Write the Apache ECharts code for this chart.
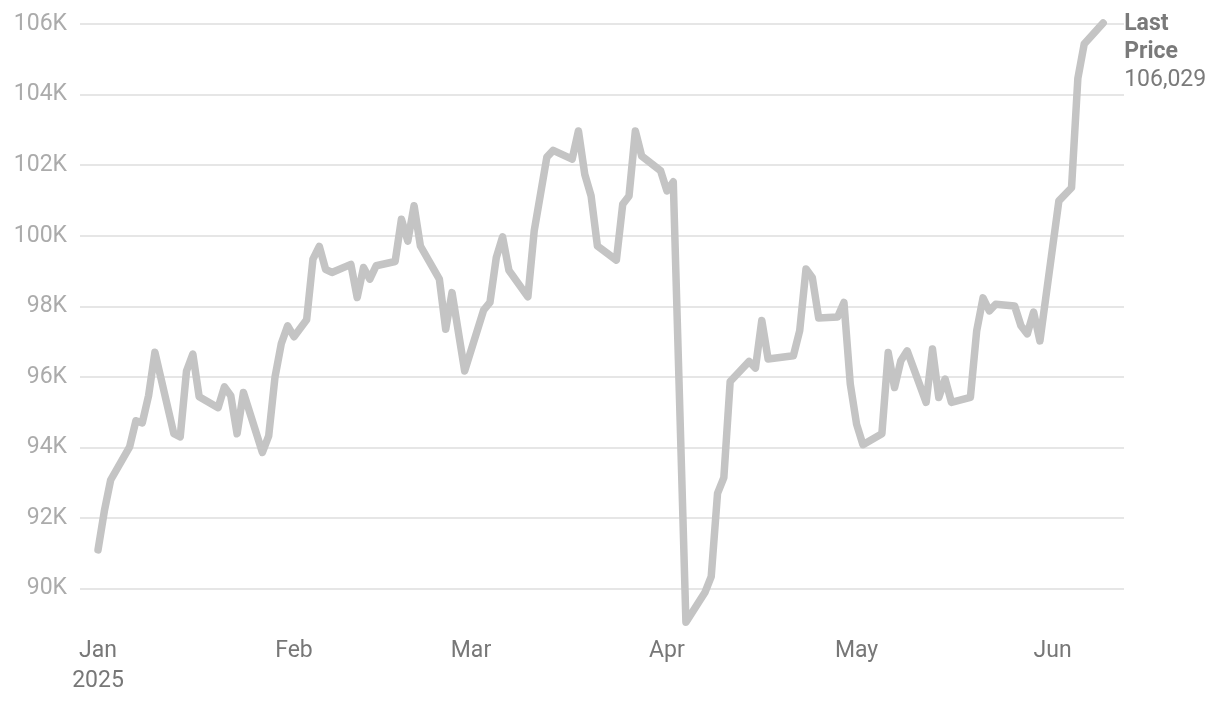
<!DOCTYPE html>
<html><head><meta charset="utf-8">
<script src="https://cdn.jsdelivr.net/npm/echarts@6/dist/echarts.min.js"></script>
<style>html,body{margin:0;padding:0;background:#fff}#c{width:1220px;height:704px}</style>
</head><body><div id="c"></div>
<script>
const dates = [
'2025-01-01','2025-01-02','2025-01-03','2025-01-06','2025-01-07','2025-01-08','2025-01-09','2025-01-10',
'2025-01-13','2025-01-14','2025-01-15','2025-01-16','2025-01-17','2025-01-20','2025-01-21','2025-01-22',
'2025-01-23','2025-01-24','2025-01-27','2025-01-28','2025-01-29','2025-01-30','2025-01-31','2025-02-01',
'2025-02-03','2025-02-04','2025-02-05','2025-02-06','2025-02-07','2025-02-10','2025-02-11','2025-02-12',
'2025-02-13','2025-02-14','2025-02-17','2025-02-18','2025-02-19','2025-02-20','2025-02-21','2025-02-24',
'2025-02-25','2025-02-26','2025-02-28','2025-03-03','2025-03-04','2025-03-05','2025-03-06','2025-03-07',
'2025-03-10','2025-03-11','2025-03-13','2025-03-14','2025-03-17','2025-03-18','2025-03-19','2025-03-20',
'2025-03-21','2025-03-24','2025-03-25','2025-03-26','2025-03-27','2025-03-28','2025-03-31','2025-04-01',
'2025-04-02','2025-04-04','2025-04-07','2025-04-08','2025-04-09','2025-04-10','2025-04-11','2025-04-14',
'2025-04-15','2025-04-16','2025-04-17','2025-04-21','2025-04-22','2025-04-23','2025-04-24','2025-04-25',
'2025-04-28','2025-04-29','2025-04-30','2025-05-01','2025-05-02','2025-05-05','2025-05-06','2025-05-07',
'2025-05-08','2025-05-09','2025-05-12','2025-05-13','2025-05-14','2025-05-15','2025-05-16','2025-05-19',
'2025-05-20','2025-05-21','2025-05-22','2025-05-23','2025-05-26','2025-05-27','2025-05-28','2025-05-29',
'2025-05-30','2025-06-02','2025-06-04','2025-06-05','2025-06-06','2025-06-09'
];
const prices = [
91100,92200,93080,94020,94760,94700,95470,96700,
94390,94300,96170,96650,95440,95130,95720,95470,
94390,95560,93860,94330,96000,96950,97450,97140,
97620,99340,99700,99050,98960,99190,98250,99100,
98770,99150,99270,100470,99850,100850,99710,98770,
97350,98390,96170,97890,98110,99380,99970,99020,
98270,100140,102230,102420,102170,102970,101740,101130,
99710,99310,100890,101130,102970,102260,101840,101270,
101530,89050,89890,90340,92700,93150,95870,96440,
96250,97600,96510,96600,97310,99060,98810,97670,
97700,98110,95800,94660,94080,94390,96690,95700,
96460,96740,95280,96790,95420,95940,95280,95420,
97310,98240,97870,98060,98010,97450,97220,97840,
97020,100990,101360,104460,105430,106029
];
const monthTicks = ['2025-01-01','2025-02-01','2025-03-01','2025-04-01','2025-05-01','2025-06-01'];
const monthNames = ['Jan','Feb','Mar','Apr','May','Jun'];
const yTicks = [90000,92000,94000,96000,98000,100000,102000,104000,106000];
const lastLabel = ['Last','Price'];

const ts = s => { const [y,m,d] = s.split('-').map(Number); return new Date(y, m - 1, d).getTime(); };
const DAY = 86400000;
const t0 = ts('2025-01-01');
const fmtNum = v => String(Math.round(v)).replace(/\B(?=(\d{3})+(?!\d))/g, ',');

const chart = echarts.init(document.getElementById('c'), null, {renderer: 'canvas'});
chart.setOption({
  animation: false,
  backgroundColor: '#ffffff',
  textStyle: {fontFamily: 'Roboto'},
  grid: {left: 80, right: 96, top: 24, bottom: 80},
  xAxis: {
    type: 'value',
    min: t0 - 2.85 * DAY,
    max: t0 + 162.3 * DAY,
    axisLine: {show: false},
    axisTick: {show: false, customValues: monthTicks.map(ts)},
    splitLine: {show: false},
    axisLabel: {
      customValues: monthTicks.map(ts),
      margin: 12,
      fontSize: 23,
      lineHeight: 30,
      color: '#777777',
      fontFamily: 'Roboto',
      formatter: v => {
        const d = new Date(v);
        const name = monthNames[d.getMonth()];
        return d.getMonth() === 0 ? name + '\n' + d.getFullYear() : name;
      }
    }
  },
  yAxis: {
    type: 'value',
    min: 89000,
    max: 106000,
    axisLine: {show: false},
    axisTick: {show: false, customValues: yTicks},
    axisLabel: {
      customValues: yTicks,
      margin: 13,
      fontSize: 23,
      color: '#ababab',
      fontFamily: 'Roboto',
      formatter: v => (v / 1000) + 'K'
    },
    splitLine: {show: true, lineStyle: {color: '#e6e6e6', width: 2}}
  },
  series: [{
    type: 'line',
    data: dates.map((d, i) => [ts(d), prices[i]]),
    showSymbol: false,
    clip: false,
    lineStyle: {color: '#c4c4c4', width: 7.5, cap: 'round', join: 'round'},
    endLabel: {
      show: true,
      distance: 21,
      offset: [0, 29],
      formatter: p => '{b|' + lastLabel[0] + '}\n{b|' + lastLabel[1] + '}\n{n|' + fmtNum(p.value[1]) + '}',
      rich: {
        b: {fontWeight: 'bold', fontSize: 23, lineHeight: 28, color: '#7a7a7a', fontFamily: 'Roboto'},
        n: {fontSize: 23, lineHeight: 28, color: '#7a7a7a', fontFamily: 'Roboto'}
      }
    }
  }]
});
</script>
</body></html>
